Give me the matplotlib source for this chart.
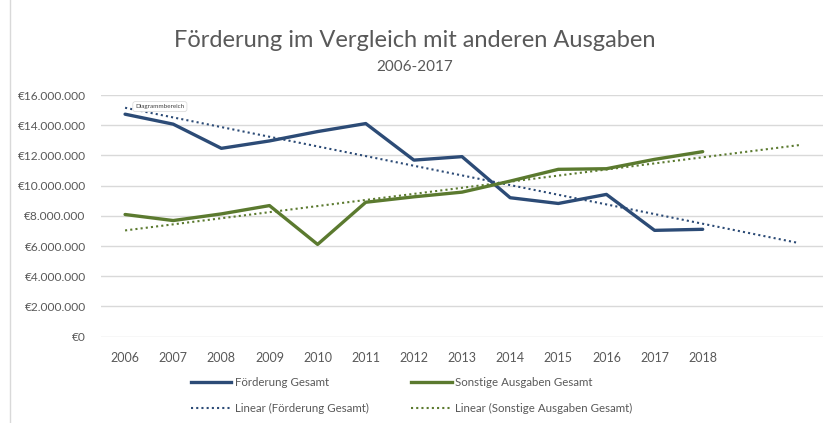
import numpy as np
import matplotlib.pyplot as plt
from matplotlib.lines import Line2D

plt.rcParams['font.family'] = ['Lato', 'DejaVu Sans']

years = [2006, 2007, 2008, 2009, 2010, 2011, 2012, 2013, 2014, 2015, 2016, 2017, 2018]
foerderung = [14.73, 14.07, 12.47, 12.96, 13.58, 14.11, 11.69, 11.92, 9.20, 8.82, 9.42, 7.04, 7.11]
sonstige = [8.09, 7.69, 8.13, 8.68, 6.11, 8.90, 9.26, 9.57, 10.30, 11.08, 11.12, 11.74, 12.25]
# Mio. EUR
foerderung = np.array(foerderung) * 1e6
sonstige = np.array(sonstige) * 1e6
forecast = 2  # trend shown two periods further

blue = '#2C4B76'
green = '#5B7A2F'
grey = '#595959'

fig = plt.figure(figsize=(8.3, 4.23), dpi=100)
ax = fig.add_axes([0.1217, 0.204, 0.8699, 0.5714])

x = np.arange(len(years))
xt = np.arange(len(years) + forecast)

ax.plot(x, foerderung, color=blue, lw=2.4, solid_capstyle='round', zorder=3)
ax.plot(x, sonstige, color=green, lw=2.4, solid_capstyle='round', zorder=3)

pf = np.polyfit(x, foerderung, 1)
ps = np.polyfit(x, sonstige, 1)
ax.plot(xt, np.polyval(pf, xt), color=blue, lw=1.5, ls=(0, (1, 1.5)), zorder=2)
ax.plot(xt, np.polyval(ps, xt), color=green, lw=1.5, ls=(0, (1, 1.5)), zorder=2)

ax.set_xlim(-0.5, len(xt) - 0.5)
ax.set_ylim(0, 16e6)
ax.set_yticks(np.arange(0, 16e6 + 1, 2e6))
ax.set_yticklabels(['€0'] + ['€{:,}'.format(int(v)).replace(',', '.') for v in np.arange(2e6, 16e6 + 1, 2e6)])
ax.set_xticks(x)
ax.set_xticklabels([str(y) for y in years])
ax.tick_params(axis='both', length=0, colors=grey)
ax.tick_params(axis='x', pad=11, labelsize=9)
ax.tick_params(axis='y', pad=11, labelsize=8.6)
ax.grid(axis='y', color='#D9D9D9', lw=1)
ax.set_axisbelow(True)
for s in ax.spines.values():
    s.set_visible(False)

fig.text(0.5, 0.905, 'Förderung im Vergleich mit anderen Ausgaben', ha='center', va='center',
         fontsize=17, color=grey)
fig.text(0.5, 0.842, '2006-2017', ha='center', va='center', fontsize=11, color=grey)

fig.text(0.163, 0.748, 'Diagrammbereich', fontsize=4.5, color='#404040', va='center',
         bbox=dict(boxstyle='round,pad=0.4', fc='white', ec='#DDDDDD', lw=0.6))

fig.add_artist(Line2D([0.012, 0.012], [0, 1], color='#D9D9D9', lw=1))

handles = [Line2D([], [], color=blue, lw=2.4),
           Line2D([], [], color=blue, lw=1.5, ls=(0, (1, 1.5))),
           Line2D([], [], color=green, lw=2.4),
           Line2D([], [], color=green, lw=1.5, ls=(0, (1, 1.5)))]
labels = ['Förderung Gesamt', 'Linear (Förderung Gesamt)',
          'Sonstige Ausgaben Gesamt', 'Linear (Sonstige Ausgaben Gesamt)']
fig.legend(handles, labels, ncol=2, loc='center', bbox_to_anchor=(0.496, 0.066),
           frameon=False, fontsize=8.3, labelcolor=grey, handlelength=3.5,
           handletextpad=0.3, columnspacing=3.7, labelspacing=1.3)

fig.savefig('out.png', dpi=100)
